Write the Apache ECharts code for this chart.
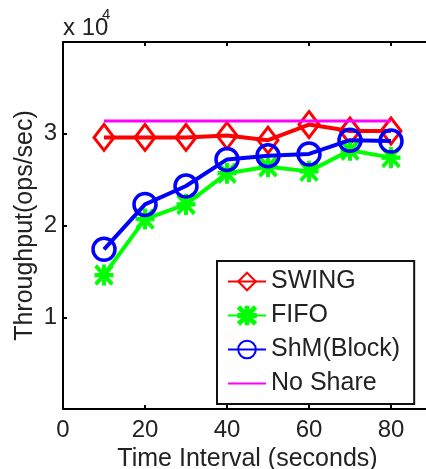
<!DOCTYPE html>
<html>
<head>
<meta charset="utf-8">
<script src="https://cdn.jsdelivr.net/npm/echarts@6/dist/echarts.min.js"></script>
<style>
  html, body { margin: 0; padding: 0; background: #fff; }
  #main { width: 426px; height: 469px; }
</style>
</head>
<body>
<div id="main"></div>
<script>
"use strict";

// time interval in seconds (x axis)
const intervals = [10, 20, 30, 40, 50, 60, 70, 80];
// throughput in ops/sec
const swing = [29600, 29600, 29600, 29800, 29300, 31000, 30300, 30300];
const fifo = [14600, 20700, 22300, 25700, 26400, 25900, 28200, 27400];
const shmBlock = [17400, 22300, 24300, 27200, 27600, 27800, 29300, 29200];
const noShare = [31400, 31400, 31400, 31400, 31400, 31400, 31400, 31400];
const xTicks = [0, 20, 40, 60, 80];
const yTicks = [10000, 20000, 30000];

const FONT = "Liberation Sans";
const TEXT = "#222";

// MATLAB style '*' marker
const STAR =
  "path://M42 0L58 0L58 100L42 100Z M0 42L100 42L100 58L0 58Z " +
  "M11 0L100 89L89 100L0 11Z M89 0L100 11L11 100L0 89Z";

let chartDom = document.getElementById("main");
let myChart = echarts.init(chartDom);

const pairs = (ys) => intervals.map((x, i) => [x, ys[i]]);

const axisCommon = {
  type: "value",
  min: 0,
  max: 90,
  interval: 20,
  axisLine: { lineStyle: { color: "#000", width: 2 } },
  axisTick: { inside: true, length: 4, lineStyle: { color: "#000", width: 2 } },
  splitLine: { show: false },
};

let option = {
  animation: false,
  backgroundColor: "#fff",
  textStyle: { fontFamily: FONT },
  grid: {
    left: 63,
    top: 42,
    width: 369,
    height: 367,
    containLabel: false,
    outerBoundsMode: "none",
  },
  xAxis: [
    Object.assign({}, axisCommon, {
      position: "bottom",
      name: "Time Interval (seconds)",
      nameLocation: "middle",
      nameGap: 37,
      nameTextStyle: { fontSize: 25, color: TEXT, fontFamily: FONT },
      axisLabel: {
        margin: 9,
        fontSize: 24,
        color: TEXT,
        fontFamily: FONT,
        formatter: (v) => (xTicks.includes(v) ? String(v) : ""),
      },
    }),
    Object.assign({}, axisCommon, {
      position: "top",
      axisLabel: { show: false },
    }),
  ],
  yAxis: {
    type: "value",
    min: 0,
    max: 40000,
    interval: 10000,
    name: "Throughput(ops/sec)",
    nameLocation: "middle",
    nameGap: 25,
    nameMoveOverlap: false,
    nameTextStyle: { fontSize: 25, color: TEXT, fontFamily: FONT },
    axisLine: { lineStyle: { color: "#000", width: 2 } },
    axisTick: { inside: true, length: 4, lineStyle: { color: "#000", width: 2 } },
    splitLine: { show: false },
    axisLabel: {
      margin: 6,
      fontSize: 24,
      color: TEXT,
      fontFamily: FONT,
      formatter: (v) => (yTicks.includes(v) ? String(v / 10000) : ""),
    },
  },
  legend: {
    orient: "vertical",
    left: 217,
    top: 261,
    padding: [8, 14, 8, 10],
    itemGap: 9,
    itemWidth: 38,
    itemHeight: 22,
    borderColor: "#111",
    borderWidth: 2,
    backgroundColor: "#fff",
    textStyle: { fontSize: 25, color: TEXT, fontFamily: FONT },
    data: [
      "SWING",
      "FIFO",
      "ShM(Block)",
      { name: "No Share", itemStyle: { color: "rgba(0,0,0,0)", borderWidth: 0 } },
    ],
  },
  graphic: [
    {
      type: "text",
      style: {
        x: 63,
        y: 28,
        text: "x 10",
        font: "24px " + FONT,
        fill: TEXT,
        textVerticalAlign: "middle",
      },
    },
    {
      type: "text",
      style: {
        x: 102,
        y: 15,
        text: "4",
        font: "15px " + FONT,
        fill: TEXT,
        textVerticalAlign: "middle",
      },
    },
  ],
  series: [
    {
      name: "SWING",
      type: "line",
      data: pairs(swing),
      symbol: "diamond",
      symbolSize: [20, 26],
      lineStyle: { color: "#ff0000", width: 4 },
      itemStyle: { color: "rgba(255,255,255,0)", borderColor: "#ff0000", borderWidth: 3 },
      z: 2,
    },
    {
      name: "FIFO",
      type: "line",
      data: pairs(fifo),
      symbol: STAR,
      symbolSize: [18, 20],
      lineStyle: { color: "#00ff00", width: 4 },
      itemStyle: { color: "#00ff00", borderColor: "#00ff00", borderWidth: 1 },
      z: 2,
    },
    {
      name: "ShM(Block)",
      type: "line",
      data: pairs(shmBlock),
      symbol: "circle",
      symbolSize: 22,
      lineStyle: { color: "#0000ff", width: 4 },
      itemStyle: { color: "rgba(255,255,255,0)", borderColor: "#0000ff", borderWidth: 3.5 },
      z: 3,
    },
    {
      name: "No Share",
      type: "line",
      data: pairs(noShare),
      symbol: "none",
      lineStyle: { color: "#ff00ff", width: 3 },
      itemStyle: { color: "#ff00ff" },
      z: 4,
    },
  ],
};

option && myChart.setOption(option);
</script>
</body>
</html>
